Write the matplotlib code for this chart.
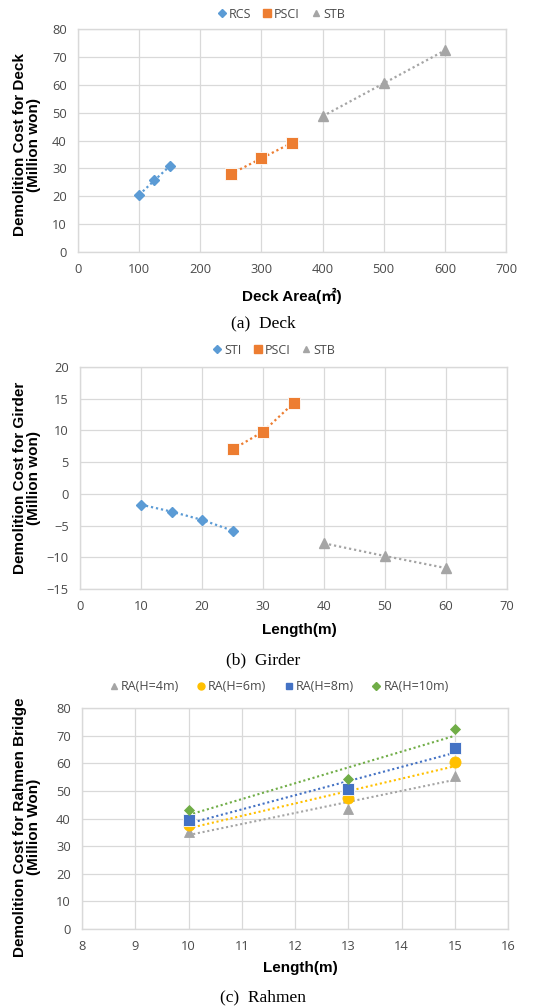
import numpy as np
import matplotlib
matplotlib.use("Agg")
import matplotlib.pyplot as plt
from matplotlib.lines import Line2D

# ---------------- data ----------------
# (a) Deck
deck_rcs_x = [100, 125, 150]
deck_rcs_y = [20.5, 25.7, 30.8]
deck_psci_x = [250, 300, 350]
deck_psci_y = [28.0, 33.6, 39.2]
deck_stb_x = [400, 500, 600]
deck_stb_y = [48.7, 60.5, 72.3]

# (b) Girder
gird_sti_x = [10, 15, 20, 25]
gird_sti_y = [-1.7, -2.8, -4.1, -5.8]
gird_psci_x = [25, 30, 35]
gird_psci_y = [7.0, 9.8, 14.3]
gird_stb_x = [40, 50, 60]
gird_stb_y = [-7.8, -9.8, -11.7]

# (c) Rahmen
rah_x = [10, 13, 15]
rah_h4 = [35.0, 43.5, 55.5]
rah_h6 = [37.5, 47.3, 60.5]
rah_h8 = [39.3, 50.7, 65.5]
rah_h10 = [43.0, 54.2, 72.5]

W, H = 542, 1007
fig = plt.figure(figsize=(W / 100, H / 100), dpi=100)

TICK_FONT = ['Open Sans', 'DejaVu Sans']
LAB_FONT = ['Liberation Sans', 'Noto Sans CJK KR', 'DejaVu Sans']
CAP_FONT = ['Liberation Serif', 'DejaVu Serif']
GRID = '#d9d9d9'
TXT = '#4a4a4a'

BLUE = '#5B9BD5'
ORANGE = '#ED7D31'
GRAY = '#A5A5A5'
YELLOW = '#FFC000'
DBLUE = '#4472C4'
GREEN = '#70AD47'
DOT = (0, (1, 1.3))


def make_ax(left, right, top, bottom):
    ax = fig.add_axes([left / W, 1 - bottom / H, (right - left) / W, (bottom - top) / H])
    for s in ax.spines.values():
        s.set_color(GRID)
        s.set_linewidth(1.0)
    ax.grid(True, color=GRID, linewidth=0.9)
    ax.set_axisbelow(True)
    ax.tick_params(length=0, labelsize=9.3, colors=TXT, pad=8)
    return ax


def style_ticks(ax):
    for lab in ax.get_xticklabels() + ax.get_yticklabels():
        lab.set_family(TICK_FONT)
        lab.set_color(TXT)


def add_legend(ax, handles, labels, cx, cy, spacing=0.8):
    leg = fig.legend(handles, labels, loc='center', bbox_to_anchor=(cx / W, 1 - cy / H),
                     ncol=len(handles), frameon=False, handletextpad=0.05,
                     columnspacing=spacing, handlelength=1.0,
                     prop={'family': TICK_FONT, 'size': 9})
    for t in leg.get_texts():
        t.set_color(TXT)


# ---------------- (a) Deck ----------------
ax = make_ax(78, 506, 29, 252)
ax.plot(deck_rcs_x, deck_rcs_y, linestyle=DOT, color=BLUE, lw=1.6, marker='D', ms=5.5, mec=BLUE, mfc=BLUE)
ax.plot(deck_psci_x, deck_psci_y, linestyle=DOT, color=ORANGE, lw=1.6, marker='s', ms=8, mec='white', mew=0.6, mfc=ORANGE)
ax.plot(deck_stb_x, deck_stb_y, linestyle=DOT, color=GRAY, lw=1.6, marker='^', ms=7.5, mec=GRAY, mfc=GRAY)
ax.set_xlim(0, 700)
ax.set_ylim(0, 80)
ax.set_xticks(np.arange(0, 701, 100))
ax.set_yticks(np.arange(0, 81, 10))
style_ticks(ax)
fig.text(27 / W, 1 - 145 / H, 'Demolition Cost for Deck\n(Million won)', rotation=90,
         ha='center', va='center', family=LAB_FONT, weight='bold', size=11, linespacing=1.0)
fig.text(292 / W, 1 - 296 / H, 'Deck Area(㎡)', ha='center', va='center',
         family=LAB_FONT, weight='bold', size=11)
fig.text(263 / W, 1 - 323 / H, '(a)  Deck', ha='center', va='center', family=CAP_FONT, size=12.5)
add_legend(ax,
           [Line2D([], [], ls='none', marker='D', ms=4, color=BLUE),
            Line2D([], [], ls='none', marker='s', ms=5.5, color=ORANGE),
            Line2D([], [], ls='none', marker='^', ms=5, color=GRAY)],
           ['RCS', 'PSCI', 'STB'], 280, 14)

# ---------------- (b) Girder ----------------
ax = make_ax(80, 507, 367, 589)
ax.plot(gird_sti_x, gird_sti_y, linestyle=DOT, color=BLUE, lw=1.6, marker='D', ms=5.5, mec=BLUE, mfc=BLUE)
ax.plot(gird_psci_x, gird_psci_y, linestyle=DOT, color=ORANGE, lw=1.6, marker='s', ms=8, mec='white', mew=0.6, mfc=ORANGE)
ax.plot(gird_stb_x, gird_stb_y, linestyle=DOT, color=GRAY, lw=1.6, marker='^', ms=7.5, mec=GRAY, mfc=GRAY)
ax.set_xlim(0, 70)
ax.set_ylim(-15, 20)
ax.set_xticks(np.arange(0, 71, 10))
ax.set_yticks(np.arange(-15, 21, 5))
style_ticks(ax)
fig.text(27 / W, 1 - 478 / H, 'Demolition Cost for Girder\n(Million won)', rotation=90,
         ha='center', va='center', family=LAB_FONT, weight='bold', size=11, linespacing=1.0)
fig.text(299 / W, 1 - 630 / H, 'Length(m)', ha='center', va='center',
         family=LAB_FONT, weight='bold', size=11)
fig.text(263 / W, 1 - 660 / H, '(b)  Girder', ha='center', va='center', family=CAP_FONT, size=12.5)
add_legend(ax,
           [Line2D([], [], ls='none', marker='D', ms=4, color=BLUE),
            Line2D([], [], ls='none', marker='s', ms=5.5, color=ORANGE),
            Line2D([], [], ls='none', marker='^', ms=5, color=GRAY)],
           ['STI', 'PSCI', 'STB'], 273, 350)

# ---------------- (c) Rahmen ----------------
ax = make_ax(82, 508, 708, 929)
series = [
    (rah_h4, GRAY, '^', 7.5, 'RA(H=4m)'),
    (rah_h6, YELLOW, 'o', 8, 'RA(H=6m)'),
    (rah_h8, DBLUE, 's', 8.5, 'RA(H=8m)'),
    (rah_h10, GREEN, 'D', 5.5, 'RA(H=10m)'),
]
xs = np.array(rah_x, dtype=float)
xline = np.array([xs.min(), xs.max()])
handles = []
labels = []
for ys, col, mk, ms, lab in series:
    coef = np.polyfit(xs, np.array(ys), 1)
    ax.plot(xline, np.polyval(coef, xline), linestyle=DOT, color=col, lw=1.5, zorder=2)
    ax.plot(xs, ys, ls='none', marker=mk, ms=ms, color=col,
            mec='white' if mk == 's' else col, mew=0.6, zorder=3)
    handles.append(Line2D([], [], ls='none', marker=mk, ms=5 if mk != 'D' else 4, color=col))
    labels.append(lab)
ax.set_xlim(8, 16)
ax.set_ylim(0, 80)
ax.set_xticks(np.arange(8, 17, 1))
ax.set_yticks(np.arange(0, 81, 10))
style_ticks(ax)
fig.text(27 / W, 1 - 827 / H, 'Demolition Cost for Rahmen Bridge\n(Million Won)', rotation=90,
         ha='center', va='center', family=LAB_FONT, weight='bold', size=11, linespacing=1.0)
fig.text(300 / W, 1 - 968 / H, 'Length(m)', ha='center', va='center',
         family=LAB_FONT, weight='bold', size=11)
fig.text(263 / W, 1 - 997 / H, '(c)  Rahmen', ha='center', va='center', family=CAP_FONT, size=12.5)
add_legend(ax, handles, labels, 278, 687, spacing=1.3)

fig.savefig('out.png', dpi=100, facecolor='white')
